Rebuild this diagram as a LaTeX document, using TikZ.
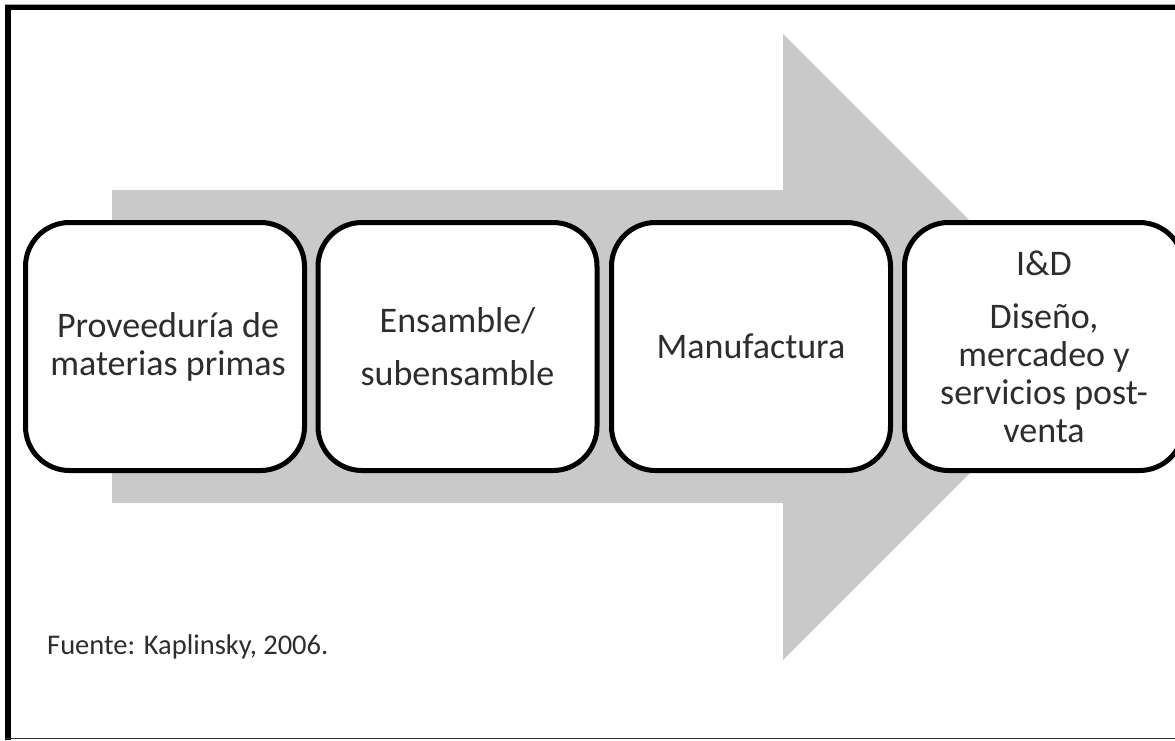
\documentclass[tikz,border=0pt]{standalone}
\usepackage{fontspec}
\setmainfont{Carlito}
\definecolor{arrowgray}{RGB}{201,201,201}
\definecolor{inkgray}{RGB}{45,45,45}
\begin{document}
\begin{tikzpicture}[x=1pt,y=-1pt,
  stage/.style={draw=black, line width=5pt, rounded corners=44pt, fill=white,
    minimum width=279pt, minimum height=248pt, inner sep=0pt, align=center,
    text=inkgray, font=\fontsize{36}{38}\selectfont},
  source/.style={anchor=base west, inner sep=0pt, text=inkgray,
    font=\fontsize{28.5}{34}\selectfont},
  frameline/.style={line width=5.5pt, black},
  thinline/.style={line width=1.3pt, black!80}]
\useasboundingbox (0,0) rectangle (1175,740);
\clip (0,0) rectangle (1175,740);

% outer frame
\draw[line width=1pt, black!35] (5,4) -- (1175,4);
\draw[frameline] (5,7.5) -- (1175,7.5);
\draw[frameline] (8,5) -- (8,740);
\draw[thinline] (5,738.5) -- (1175,738.5);

% big grey arrow behind the stages
\fill[arrowgray] (112,190) -- (783,190) -- (783,34) -- (1096,347)
  -- (783,660) -- (783,503) -- (112,503) -- cycle;

% value chain stages
\node[stage] (s1) at (165,346.5) {\hspace*{6pt}Proveeduría de\\\hspace*{6pt}materias primas};
\node[stage] (s2) at (457.5,346.5) {Ensamble/\\[15pt]subensamble};
\node[stage] (s3) at (751,346.5) {Manufactura};
\node[stage] (s4) at (1044,346.5) {I\&D\\[15pt]Diseño,\\mercadeo y\\servicios post-\\venta};

% source note
\node[source] (src) at (47,654) {Fuente: Kaplinsky, 2006.};
\end{tikzpicture}
\end{document}
